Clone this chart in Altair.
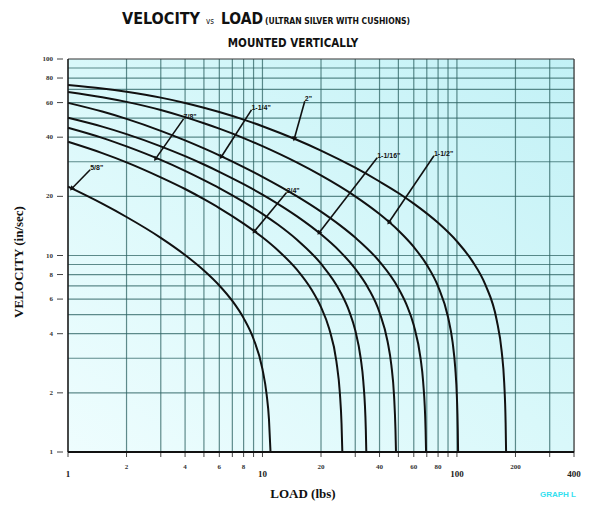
import math
import altair as alt
import pandas as pd

W_PLOT = 506
H_PLOT = 393

# ---------------- data ----------------
curve_names = ['5/8"', '3/4"', '7/8"', '1-1/16"', '1-1/4"', '1-1/2"', '2"']

load_58 = [1, 1.5, 2, 3, 4, 5, 6, 7, 8, 9, 10, 10.5, 10.8, 11.0]
vel_58 = [22.4, 18.35, 15.7, 12.3, 10.06, 8.39, 7.04, 5.87, 4.8, 3.76, 2.64, 1.97, 1.47, 1.0]

load_34 = [1, 1.5, 2, 3, 4, 5, 6, 8, 10, 12, 15, 18, 20, 22, 24, 25, 25.5, 25.75]
vel_34 = [37.9, 33.2, 29.8, 25.0, 21.8, 19.35, 17.44, 14.54, 12.38, 10.63, 8.49, 6.63, 5.46, 4.26, 2.89, 2.0, 1.4, 1.0]

load_78 = [1, 1.5, 2, 3, 4, 5, 6, 8, 10, 12, 15, 20, 25, 28, 30, 32, 33, 34, 34.2]
vel_78 = [44.7, 39.7, 35.9, 30.65, 26.98, 24.2, 22.04, 18.74, 16.3, 14.37, 12.06, 9.08, 6.6, 5.17, 4.16, 3.0, 2.29, 1.3, 1.0]

load_1116 = [1, 1.5, 2, 3, 4, 5, 6, 8, 10, 12, 15, 20, 25, 30, 35, 40, 44, 46, 47.5, 48.3, 48.6]
vel_1116 = [50.2, 45.26, 41.47, 35.94, 32.02, 29.04, 26.67, 23.07, 20.42, 18.33, 15.87, 12.82, 10.5, 8.56, 6.82, 5.13, 3.65, 2.77, 1.93, 1.3, 1.0]

load_114 = [1, 1.5, 2, 3, 4, 5, 6, 8, 10, 15, 20, 25, 30, 40, 50, 55, 60, 65, 67, 69, 69.4]
vel_114 = [59.8, 54.0, 49.56, 43.1, 38.53, 35.07, 32.33, 28.19, 25.16, 20.06, 16.73, 14.28, 12.34, 9.31, 6.82, 5.64, 4.41, 3.0, 2.29, 1.3, 1.0]

load_112 = [1, 1.5, 2, 3, 4, 5, 6, 8, 10, 15, 20, 30, 40, 50, 60, 70, 80, 90, 95, 98, 100, 101, 101.4]
vel_112 = [68.0, 63.95, 60.5, 55.0, 50.6, 47.1, 44.2, 39.6, 36.0, 29.75, 25.55, 20.0, 16.25, 13.4, 11.05, 8.96, 6.97, 4.86, 3.62, 2.69, 1.89, 1.32, 1.0]

load_2 = [1, 1.5, 2, 3, 4, 5, 6, 8, 10, 15, 20, 30, 40, 50, 60, 80, 100, 120, 140, 160, 170, 175, 178, 179]
vel_2 = [73.8, 70.8, 68.1, 63.6, 59.75, 56.5, 53.7, 49.15, 45.5, 38.8, 34.2, 27.97, 23.8, 20.8, 18.36, 14.66, 11.8, 9.36, 7.1, 4.71, 3.23, 2.26, 1.41, 1.0]

curve_loads = [load_58, load_34, load_78, load_1116, load_114, load_112, load_2]
curve_vels = [vel_58, vel_34, vel_78, vel_1116, vel_114, vel_112, vel_2]

# annotation arrows (label anchor -> tip on curve)
ann_text = ['5/8"', '7/8"', '1-1/4"', '2"', '3/4"', '1-1/16"', '1-1/2"']
ann_start_w = [1.30, 3.93, 8.78, 16.5, 13.3, 38.9, 76.2]
ann_start_v = [27.3, 49.6, 55.1, 61.0, 20.9, 31.4, 32.2]
ann_tip_w = [1.05, 2.83, 6.16, 14.6, 9.1, 19.6, 44.8]
ann_tip_v = [22.0, 31.2, 31.9, 39.5, 13.3, 13.1, 14.8]

x_grid = [2, 3, 4, 5, 6, 7, 8, 9, 10, 20, 30, 40, 50, 60, 70, 80, 90, 100, 200, 300]
y_grid = [2, 3, 4, 5, 6, 7, 8, 9, 10, 20, 30, 40, 50, 60, 70, 80, 90]
x_ticks = [1, 2, 3, 4, 5, 6, 7, 8, 9, 10, 20, 30, 40, 50, 60, 70, 80, 90, 100, 200, 300, 400]

x_small_labels = [2, 4, 6, 8, 20, 40, 60, 80, 200]
x_big_labels = [1, 10, 100, 400]
y_labels = [1, 2, 4, 6, 8, 10, 20, 40, 60, 80, 100]

# ---------------- build tables ----------------
rows = []
for name, ws, vs in zip(curve_names, curve_loads, curve_vels):
    for i, (w, v) in enumerate(zip(ws, vs)):
        rows.append({"curve": name, "load": w, "vel": v, "order": i})
curves_df = pd.DataFrame(rows)

ann_df = pd.DataFrame({
    "text": ann_text, "w0": ann_start_w, "v0": ann_start_v,
    "w1": ann_tip_w, "v1": ann_tip_v,
})
px_dec = W_PLOT / math.log10(400)
py_dec = H_PLOT / 2.0
angles = []
for w0, v0, w1, v1 in zip(ann_start_w, ann_start_v, ann_tip_w, ann_tip_v):
    dx = px_dec * (math.log10(w1) - math.log10(w0))
    dy = py_dec * (math.log10(v0) - math.log10(v1))
    angles.append(math.degrees(math.atan2(dx, -dy)) % 360)
ann_df["angle"] = angles

xs = alt.Scale(type="log", domain=[1, 400], nice=False)
ys = alt.Scale(type="log", domain=[1, 100], nice=False)

one = pd.DataFrame({"a": [0]})

SERIF = "Liberation Serif, Times New Roman, serif"
NARROW = "Liberation Sans Narrow, DejaVu Sans Condensed, Liberation Sans, sans-serif"
SANS = "Liberation Sans, Arial, sans-serif"

grad = alt.LinearGradient(
    gradient="linear",
    stops=[alt.GradientStop(color="#c2f1f6", offset=0),
           alt.GradientStop(color="#d9f8fa", offset=0.5),
           alt.GradientStop(color="#eefdfe", offset=1)],
    x1=1, y1=0, x2=0, y2=1,
)

bg = alt.Chart(one).mark_rect(fill=grad).encode(
    x=alt.value(0), x2=alt.value(W_PLOT), y=alt.value(0), y2=alt.value(H_PLOT))

gx = alt.Chart(pd.DataFrame({"g": x_grid})).mark_rule(
    color="#2f6464", strokeWidth=1.2, opacity=0.75).encode(
    x=alt.X("g:Q", scale=xs, axis=None))
gy = alt.Chart(pd.DataFrame({"g": y_grid})).mark_rule(
    color="#2f6464", strokeWidth=1.2, opacity=0.75).encode(
    y=alt.Y("g:Q", scale=ys, axis=None))

lines = alt.Chart(curves_df).mark_line(
    color="#111111", strokeWidth=2.0, interpolate="monotone").encode(
    x=alt.X("load:Q", scale=xs, axis=None),
    y=alt.Y("vel:Q", scale=ys, axis=None),
    detail="curve:N", order="order:Q")

arrows = alt.Chart(ann_df).mark_rule(color="#111111", strokeWidth=1.6).encode(
    x=alt.X("w0:Q", scale=xs, axis=None), x2="w1:Q",
    y=alt.Y("v0:Q", scale=ys, axis=None), y2="v1:Q")
heads = alt.Chart(ann_df).mark_point(
    shape="triangle", filled=True, color="#111111", size=28, opacity=1).encode(
    x=alt.X("w1:Q", scale=xs, axis=None),
    y=alt.Y("v1:Q", scale=ys, axis=None),
    angle=alt.Angle("angle:Q", scale=None))
ann_labels = alt.Chart(ann_df).mark_text(
    font=SANS, fontSize=7, fontWeight="bold", align="left", baseline="bottom",
    dx=0, dy=1, color="#111111").encode(
    x=alt.X("w0:Q", scale=xs, axis=None),
    y=alt.Y("v0:Q", scale=ys, axis=None), text="text:N")

# frame
frame_top = alt.Chart(one).mark_rule(color="#333333", strokeWidth=1.2).encode(
    x=alt.value(0), x2=alt.value(W_PLOT), y=alt.value(0))
frame_right = alt.Chart(one).mark_rule(color="#333333", strokeWidth=1.2).encode(
    x=alt.value(W_PLOT), y=alt.value(0), y2=alt.value(H_PLOT))
frame_left = alt.Chart(one).mark_rule(color="#1a1a1a", strokeWidth=1.6).encode(
    x=alt.value(0), y=alt.value(0), y2=alt.value(H_PLOT))
frame_bottom = alt.Chart(one).mark_rule(color="#111111", strokeWidth=2.2).encode(
    x=alt.value(0), x2=alt.value(W_PLOT), y=alt.value(H_PLOT))

xt = alt.Chart(pd.DataFrame({"t": x_ticks})).mark_rule(
    color="#444444", strokeWidth=1).encode(
    x=alt.X("t:Q", scale=xs, axis=None), y=alt.value(H_PLOT), y2=alt.value(H_PLOT + 5))
yt = alt.Chart(pd.DataFrame({"t": y_labels})).mark_rule(
    color="#444444", strokeWidth=1).encode(
    y=alt.Y("t:Q", scale=ys, axis=None), x=alt.value(-11), x2=alt.value(-5))

xl_small = alt.Chart(pd.DataFrame({"t": x_small_labels})).mark_text(
    font=SERIF, fontSize=7, fontWeight="bold", color="#333333", baseline="middle").encode(
    x=alt.X("t:Q", scale=xs, axis=None), y=alt.value(H_PLOT + 15), text="t:Q")
xl_big = alt.Chart(pd.DataFrame({"t": x_big_labels})).mark_text(
    font=SERIF, fontSize=9, fontWeight="bold", color="#222222", baseline="middle").encode(
    x=alt.X("t:Q", scale=xs, axis=None), y=alt.value(H_PLOT + 22), text="t:Q")
yl = alt.Chart(pd.DataFrame({"t": y_labels})).mark_text(
    font=SERIF, fontSize=7, fontWeight="bold", color="#333333", align="right",
    baseline="middle").encode(
    y=alt.Y("t:Q", scale=ys, axis=None), x=alt.value(-15), text="t:Q")

def txt(s, x, y, size, font, weight="bold", color="#111111", align="left", angle=0):
    kw = dict(text=s, font=font, fontSize=size, fontWeight=weight, color=color,
              align=align, baseline="alphabetic")
    if angle:
        kw["angle"] = angle
    return alt.Chart(one).mark_text(**kw).encode(x=alt.value(x), y=alt.value(y))

title_parts = [
    txt("VELOCITY", 122 - 68, 24 - 59, 16, NARROW),
    txt("vs", 206 - 68, 24 - 59, 8, NARROW, weight="normal"),
    txt("LOAD", 221 - 68, 24 - 59, 15.5, NARROW),
    txt("(ULTRAN SILVER WITH CUSHIONS)", 265 - 68, 24 - 59, 8.5, NARROW),
    txt("MOUNTED VERTICALLY", 293 - 68, 47 - 59, 11.5, NARROW, align="center"),
    txt("LOAD (lbs)", 303 - 68, 498 - 59, 13, SERIF, align="center"),
    txt("GRAPH L", 558 - 68, 497 - 59, 8, SANS, color="#33e0ef", align="center"),
    txt("VELOCITY (in/sec)", 23 - 68, 262 - 59, 13, SERIF, align="center", angle=270),
]

chart = alt.layer(
    bg, gx, gy, xt, yt, frame_top, frame_right, lines, arrows, heads, ann_labels,
    frame_left, frame_bottom, xl_small, xl_big, yl, *title_parts
).properties(
    width=W_PLOT, height=H_PLOT,
    padding={"left": 60, "top": 51, "right": 9, "bottom": 56},
    autosize=alt.AutoSizeParams(type="none"),
).configure_view(strokeWidth=0).configure(background="white")

chart.save("out.html", embed_options={"renderer": "svg", "actions": False})
